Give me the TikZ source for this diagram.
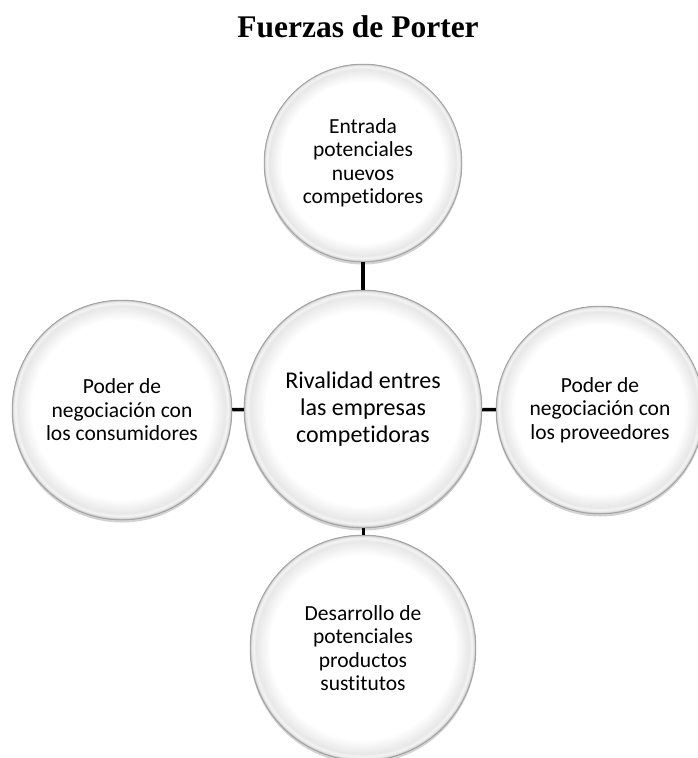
\documentclass[tikz,border=0pt]{standalone}
\usepackage{fontspec}
\setmainfont{Liberation Serif}
\newfontfamily\bubblefont[Ligatures={NoCommon}]{Carlito}
\usetikzlibrary{shadows}
\tikzset{
  bubble/.style={circle, inner sep=0pt, fill=white, draw=black!40, line width=0.5pt,
    align=center, font=\bubblefont\fontsize{21.5}{23.5}\selectfont, text=black,
    drop shadow={opacity=0.35, shadow xshift=0pt, shadow yshift=-2.5pt},
    path picture={
      \pgfpointdiff{\pgfpointanchor{path picture bounding box}{center}}{\pgfpointanchor{path picture bounding box}{east}}%
      \pgfgetlastxy{\bubR}{\bubY}%
      \foreach \i in {0,...,45}
        {\pgfmathsetmacro\bubT{\i*0.004}%
         \pgfmathsetmacro\bubG{\bubT<0.012 ? 36-(\bubT/0.012)*24 : (\bubT<0.03 ? 12-(\bubT-0.012)/0.018*8 : (\bubT<0.055 ? 4+(\bubT-0.03)/0.025*5 : max(0,9-(\bubT-0.055)/0.125*9)))}%
         \fill[black!\bubG] (path picture bounding box.center) circle[radius=(1-\bubT)*\bubR];}
    }},
  bigbubble/.style={bubble, font=\bubblefont\fontsize{24}{27}\selectfont},
  link/.style={draw=black, line width=3.5pt}
}
\begin{document}
\begin{tikzpicture}[x=1pt, y=-1pt]
\useasboundingbox[fill=white] (0,0) rectangle (697,758);
\node[font=\bfseries\fontsize{31.5}{36}\selectfont, anchor=base] (title) at (358,37) {Fuerzas de Porter};
\node[bubble, minimum size=198pt] (top) at (363,163) {Entrada\\potenciales\\nuevos\\competidores};
\node[bubble, minimum size=220pt] (left) at (122,410) {Poder de\\negociación con\\los consumidores};
\node[bubble, minimum size=208pt] (right) at (600,410) {Poder de\\negociación con\\los proveedores};
\node[bubble, minimum size=226pt] (bottom) at (363,648) {Desarrollo de\\potenciales\\productos\\sustitutos};
\node[bigbubble, minimum size=238pt] (center) at (363,409) {Rivalidad entres\\las empresas\\competidoras};
\draw[link] (top) -- (center);
\draw[link] (left) -- (center);
\draw[link] (right) -- (center);
\draw[link, line width=3pt] (bottom) -- (center);
\end{tikzpicture}
\end{document}
